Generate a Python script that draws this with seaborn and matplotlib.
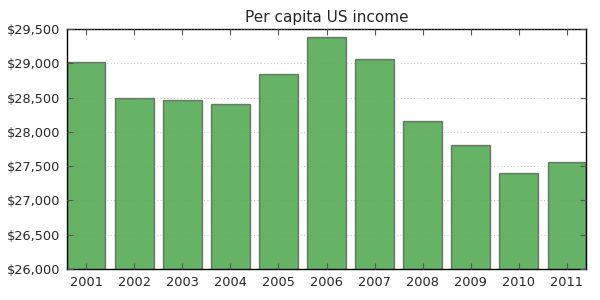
import matplotlib
matplotlib.use("Agg")
import matplotlib.pyplot as plt
import matplotlib.ticker as mticker
import seaborn as sns
import pandas as pd

years = ["2001", "2002", "2003", "2004", "2005", "2006", "2007", "2008", "2009", "2010", "2011"]
income = [29020, 28495, 28465, 28405, 28845, 29385, 29065, 28160, 27810, 27400, 27555]
title = "Per capita US income"
yticks = [26000, 26500, 27000, 27500, 28000, 28500, 29000, 29500]

sns.set_style("white")
plt.rcParams["font.family"] = ["DejaVu Sans"]

df = pd.DataFrame({"year": years, "income": income})

fig = plt.figure(figsize=(6, 3), dpi=100)
ax = fig.add_axes([67/600, 1 - 269/300, (586 - 67)/600, (269 - 29)/300])

sns.barplot(data=df, x="year", y="income", order=years, color="green", saturation=1,
            alpha=0.6, edgecolor="#383838", linewidth=1, width=0.8, ax=ax)

ax.set_xlim(-0.4, 10.4)
ax.set_ylim(26000, 29500)
ax.set_yticks(yticks)
ax.yaxis.set_major_formatter(mticker.StrMethodFormatter("${x:,.0f}"))
ax.set_xlabel("")
ax.set_ylabel("")
ax.set_title(title, fontsize=11, pad=5)

ax.set_axisbelow(False)
ax.grid(axis="y", linestyle=(0, (1, 3)), color="#888888", linewidth=0.6, alpha=0.7)
for s in ax.spines.values():
    s.set_color("black")
    s.set_linewidth(1)
    s.set_visible(True)
ax.tick_params(axis="both", direction="in", length=4, width=0.8, color="#555555",
               labelsize=9.3, top=True, right=True, bottom=True, left=True, pad=5)

fig.savefig("out.png", dpi=100)
